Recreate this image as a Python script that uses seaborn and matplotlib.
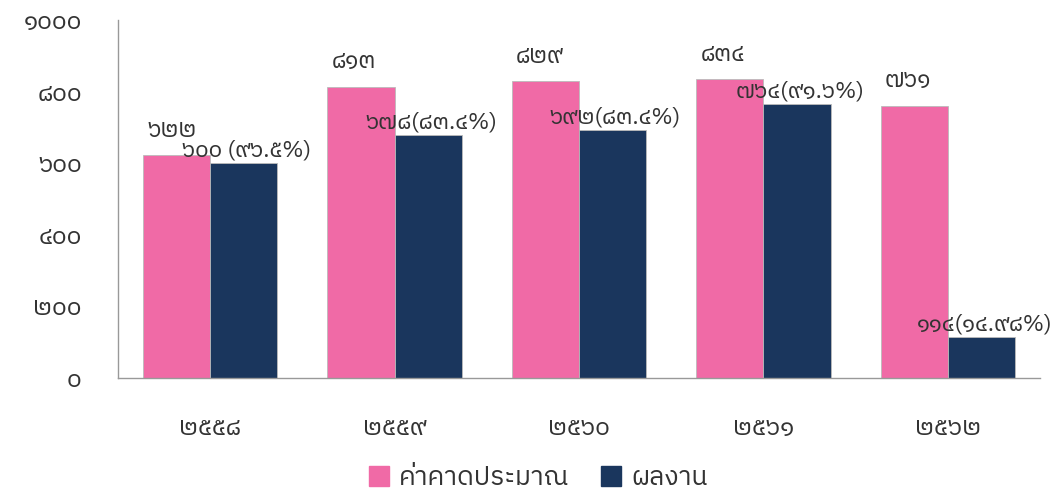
import matplotlib
matplotlib.use("Agg")
import matplotlib.pyplot as plt
from matplotlib import font_manager
from matplotlib.ft2font import FT2Font
import pandas as pd
import seaborn as sns

# data
years = ["2558", "2559", "2560", "2561", "2562"]
estimate = [622, 813, 829, 834, 761]
actual = [600, 678, 692, 764, 114]
actual_pct = ["96.5", "83.4", "83.4", "91.6", "14.98"]
series_names = ["ค่าคาดประมาณ", "ผลงาน"]
yticks = [0, 200, 400, 600, 800, 1000]

PINK = "#F06AA6"
NAVY = "#1A365D"
TEXT = "#333333"

thai_digits = str.maketrans("0123456789", "๐๑๒๓๔๕๖๗๘๙")


def th(s):
    return str(s).translate(thai_digits)


def find_thai_font():
    # look for any installed font that has Thai glyphs
    found = []
    for f in font_manager.fontManager.ttflist:
        try:
            cm = FT2Font(f.fname).get_charmap()
        except Exception:
            continue
        if 0x0E51 in cm and 0x0E04 in cm:
            found.append(f.name)
    pref = [n for n in found if "Thai" in n]
    if pref:
        return pref[0]
    return found[0] if found else "DejaVu Sans"


sns.set_style("white")
thai_font = find_thai_font()
plt.rcParams["font.family"] = [thai_font, "DejaVu Sans"]

df = pd.DataFrame({
    "year": years * 2,
    "value": estimate + actual,
    "series": [series_names[0]] * len(years) + [series_names[1]] * len(years),
})

fig = plt.figure(figsize=(10.56, 4.99), dpi=100)
ax = fig.add_axes([0.1117, 0.2425, 0.8733, 0.7175])

sns.barplot(data=df, x="year", y="value", hue="series",
            palette=[PINK, NAVY], saturation=1, width=0.73,
            edgecolor="#bbbbbb", linewidth=0.6, ax=ax, legend=False)

ax.set_ylim(0, 1000)
ax.set_xlim(-0.5, len(years) - 0.5)
ax.set_yticks(yticks)
ax.set_yticklabels([th(v) for v in yticks], fontsize=18, color=TEXT)
ax.set_xticklabels([th(y) for y in years], fontsize=18, color=TEXT)
ax.tick_params(axis="y", length=0, pad=26)
ax.tick_params(axis="x", length=0, pad=28)
ax.set_xlabel("")
ax.set_ylabel("")
sns.despine(ax=ax)
for s in ["left", "bottom"]:
    ax.spines[s].set_color("#999999")
    ax.spines[s].set_linewidth(1)

# value labels
pink_bars = ax.containers[0]
navy_bars = ax.containers[1]
for i, bar in enumerate(pink_bars):
    ax.annotate(th(estimate[i]), (bar.get_x(), bar.get_height()),
                xytext=(3, 18), textcoords="offset points",
                ha="left", va="center", fontsize=17, color=TEXT)
for i, bar in enumerate(navy_bars):
    sep = " " if i == 0 else ""
    label = th(actual[i]) + sep + "(" + th(actual_pct[i]) + "%)"
    ax.annotate(label, (bar.get_x() + bar.get_width() / 2, bar.get_height()),
                xytext=(2, 9), textcoords="offset points",
                ha="center", va="center", fontsize=16.5, color=TEXT,
                annotation_clip=False)

handles = [plt.Rectangle((0, 0), 1, 1, color=PINK),
           plt.Rectangle((0, 0), 1, 1, color=NAVY)]
fig.legend(handles, series_names, loc="lower center", ncol=2,
           bbox_to_anchor=(0.51, -0.03), frameon=False, fontsize=19,
           handlelength=0.75, handleheight=0.8, columnspacing=1.2,
           handletextpad=0.4, labelcolor=TEXT)

fig.savefig("out.png", dpi=100)
